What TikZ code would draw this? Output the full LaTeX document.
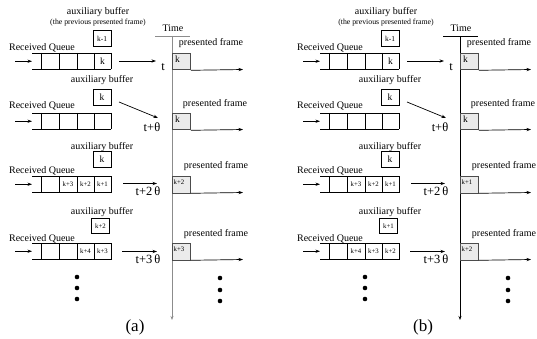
\documentclass[tikz,border=0pt]{standalone}
\usepackage{fontspec}
\setmainfont{Liberation Serif}
\usetikzlibrary{arrows.meta}
\tikzset{
  lbl/.style={inner sep=0pt,font=\fontsize{10}{12}\selectfont},
  sublbl/.style={inner sep=0pt,font=\fontsize{7.8}{9}\selectfont},
  tlbl/.style={inner sep=0pt,font=\fontsize{12.5}{14}\selectfont},
  cellt/.style={inner sep=0pt,font=\fontsize{6.8}{8}\selectfont},
  bigt/.style={inner sep=0pt,font=\fontsize{9.5}{11}\selectfont},
  capt/.style={inner sep=0pt,font=\fontsize{17}{19}\selectfont},
  auxbox/.style={draw,line width=0.8pt,inner sep=0pt,minimum width=18pt,minimum height=15.5pt},
  pfbox/.style={draw=black!70,fill=black!8,line width=0.8pt,inner sep=0pt,minimum width=18pt,minimum height=16.5pt,anchor=north west},
  arr/.style={-{Stealth[length=4.5pt,width=3.2pt]},line width=0.7pt},
  qline/.style={line width=0.9pt},
  dotst/.style={circle,fill=black,inner sep=0pt,minimum size=4.6pt},
}
% #1 prefix, #2 ytop, #3..#6 cell labels
\newcommand\myqrow[6]{%
  \draw[qline] (32,#2) -- (111,#2) (32,#2+16.5) -- (111,#2+16.5);
  \foreach \xx in {41,59,77,94,111} \draw[qline] (\xx,#2) -- (\xx,#2+16.5);
  \node[cellt] (#1c1) at (50,#2+8.25) {#3};
  \node[cellt] (#1c2) at (68,#2+8.25) {#4};
  \node[cellt] (#1c3) at (85.5,#2+8.25) {#5};
  \node[cellt] (#1c4) at (102.5,#2+8.25) {#6};
  \coordinate (#1in) at (15,#2+8.25);
  \coordinate (#1qs) at (32,#2+8.25);
  \draw[arr] (#1in) -- (#1qs);
}
% presented frame: #1 prefix, #2 ytop, #3 label, #4 y of "presented frame" label
\newcommand\mypf[4]{%
  \node[pfbox] (#1pf) at (172,#2) {};
  \node[anchor=north west,inner sep=0pt,font=\fontsize{#3}{9}\selectfont] (#1pft) at ([xshift=2.5pt,yshift=-2.5pt]#1pf.north west) {};
  \coordinate (#1end) at (243,#2+16.5);
  \draw[arr] (#1pf.south east) -- (#1end);
  \node[lbl] (#1pfl) at (214,#4) {presented frame};
}
% #1 prefix, #2 axis colour, #3 pf3 label, #4 aux4 label, #5 #6 #7 row4 cells, #8 pf4 label, #9 caption
\newcommand\mypanel[9]{%
  % axis
  \coordinate (#1ax0) at (172,36);
  \coordinate (#1ax1) at (172,320);
  \coordinate (#1tl0) at (155,36);
  \coordinate (#1tl1) at (190,36);
  \draw[#2,line width=0.8pt] (#1tl0) -- (#1tl1);
  \draw[#2,line width=0.8pt,-{Stealth[length=4pt,width=3pt]}] (#1ax0) -- (#1ax1);
  \node[lbl] (#1time) at (173,28) {Time};
  % row 1
  \node[lbl] (#1aux1) at (98,12) {auxiliary buffer};
  \node[sublbl] (#1sub) at (98,23) {(the previous presented frame)};
  \node[auxbox] (#1b1) at (102,38.5) {\fontsize{7.5}{9}\selectfont k-1};
  \node[lbl] (#1rq1) at (42,48) {Received Queue};
  \myqrow{#1r1}{53}{}{}{}{\fontsize{9.5}{11}\selectfont k}
  \node[pfbox] (#1pf1) at (172,53) {};
  \node[bigt,anchor=north west] (#1pft1) at ([xshift=3pt,yshift=-2.5pt]#1pf1.north west) {k};
  \coordinate (#1e1) at (243,69.5);
  \draw[arr] (#1pf1.south east) -- (#1e1);
  \node[lbl] (#1pfl1) at (211,43) {presented frame};
  \coordinate (#1a1s) at (119,61);
  \coordinate (#1a1e) at (156,61);
  \draw[arr] (#1a1s) -- (#1a1e);
  \node[tlbl] (#1t1) at (163,67) {t};
  % row 2
  \node[lbl] (#1aux2) at (102,80) {auxiliary buffer};
  \node[auxbox] (#1b2) at (102,97.5) {\fontsize{9.5}{11}\selectfont k};
  \node[lbl] (#1rq2) at (42,106) {Received Queue};
  \myqrow{#1r2}{113}{}{}{}{}
  \node[pfbox] (#1pf2) at (172,113) {};
  \node[bigt,anchor=north west] (#1pft2) at ([xshift=3pt,yshift=-2.5pt]#1pf2.north west) {k};
  \coordinate (#1e2) at (243,129.5);
  \draw[arr] (#1pf2.south east) -- (#1e2);
  \node[lbl] (#1pfl2) at (215,104) {presented frame};
  \coordinate (#1a2s) at (119,102);
  \coordinate (#1a2e) at (158,118);
  \draw[arr] (#1a2s) -- (#1a2e);
  \node[tlbl] (#1t2) at (152,127) {t+θ};
  % row 3
  \node[lbl] (#1aux3) at (102,147) {auxiliary buffer};
  \node[auxbox] (#1b3) at (102,159.5) {\fontsize{9.5}{11}\selectfont k};
  \node[lbl] (#1rq3) at (42,171) {Received Queue};
  \myqrow{#1r3}{176}{}{k+3}{k+2}{k+1}
  \node[pfbox] (#1pf3) at (172,176) {};
  \node[cellt,anchor=north west] (#1pft3) at ([xshift=1.5pt,yshift=-3.5pt]#1pf3.north west) {#3};
  \coordinate (#1e3) at (243,192.5);
  \draw[arr] (#1pf3.south east) -- (#1e3);
  \node[lbl] (#1pfl3) at (216,166) {presented frame};
  \coordinate (#1a3s) at (123,183.5);
  \coordinate (#1a3e) at (157,183.5);
  \draw[arr] (#1a3s) -- (#1a3e);
  \node[tlbl] (#1t3) at (148,191) {t+2\,θ};
  % row 4
  \node[lbl] (#1aux4) at (102,212) {auxiliary buffer};
  \node[auxbox] (#1b4) at (100.5,226) {\fontsize{6.8}{8}\selectfont #4};
  \node[lbl] (#1rq4) at (42,239) {Received Queue};
  \myqrow{#1r4}{243}{}{#5}{#6}{#7}
  \node[pfbox] (#1pf4) at (172,243) {};
  \node[cellt,anchor=north west] (#1pft4) at ([xshift=1.5pt,yshift=-3.5pt]#1pf4.north west) {#8};
  \coordinate (#1e4) at (243,259.5);
  \draw[arr] (#1pf4.south east) -- (#1e4);
  \node[lbl] (#1pfl4) at (216,234) {presented frame};
  \coordinate (#1a4s) at (122,251.5);
  \coordinate (#1a4e) at (157,251.5);
  \draw[arr] (#1a4s) -- (#1a4e);
  \node[tlbl] (#1t4) at (148,259) {t+3\,θ};
  % dots
  \node[dotst] (#1dl1) at (77,277) {};
  \node[dotst] (#1dl2) at (77,288) {};
  \node[dotst] (#1dl3) at (77,299) {};
  \node[dotst] (#1dr1) at (220,278) {};
  \node[dotst] (#1dr2) at (220,290) {};
  \node[dotst] (#1dr3) at (220,301) {};
  \node[capt] (#1cap) at (135,327) {#9};
}
\begin{document}
\begin{tikzpicture}[x=1pt,y=-1pt]
\useasboundingbox (0,0) rectangle (537,339);
\mypanel{a}{black!45}{k+2}{k+2}{}{k+4}{k+3}{k+3}{(a)}
\begin{scope}[xshift=288pt]
\mypanel{b}{black}{k+1}{k+1}{k+4}{k+3}{k+2}{k+2}{(b)}
\end{scope}
\end{tikzpicture}
\end{document}
